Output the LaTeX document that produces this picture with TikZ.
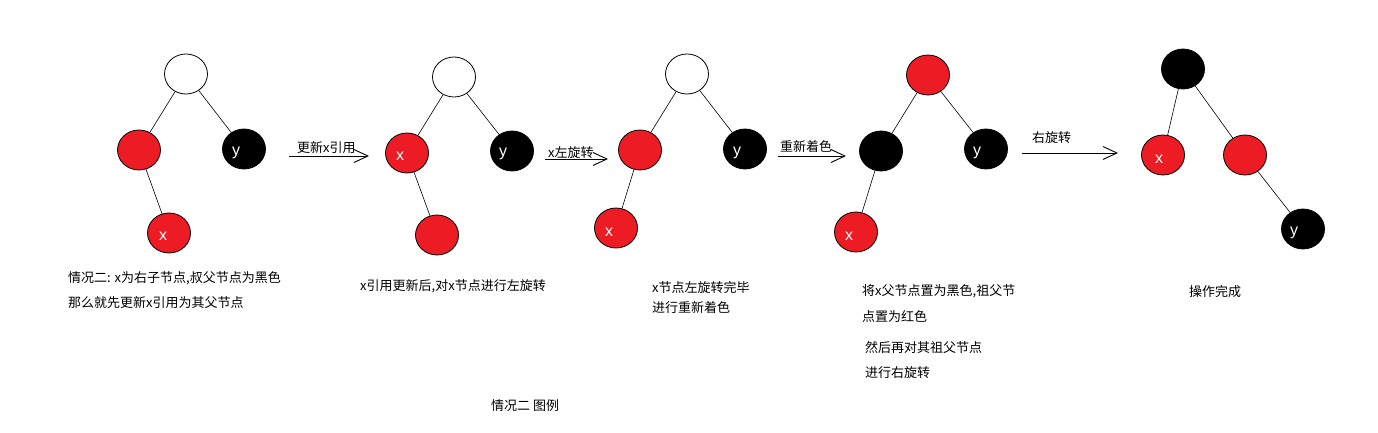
\documentclass[tikz,border=0pt]{standalone}
\usepackage{fontspec}
\setmainfont{Noto Sans CJK SC}
\newfontfamily\lblfont{Liberation Sans}
\usetikzlibrary{shapes.geometric,arrows.meta}
\definecolor{pred}{HTML}{ED1C24}
\tikzset{
  rb/.style={ellipse,draw=black,line width=0.8pt,minimum width=43pt,minimum height=40pt,inner sep=0pt},
  rednode/.style={rb,fill=pred},
  blacknode/.style={rb,fill=black},
  whitenode/.style={rb,fill=white},
  edge/.style={line width=0.6pt},
  lbl/.style={text=white,font=\lblfont\fontsize{16}{16}\selectfont,inner sep=0pt},
  txt/.style={anchor=west,inner sep=0pt,font=\fontsize{13}{15}\selectfont},
  flow/.style={line width=0.9pt,-{Straight Barb[length=14pt,width=13pt,line width=0.9pt]}}
}
\begin{document}
\begin{tikzpicture}[x=1pt,y=-1pt]
\useasboundingbox[fill=white] (0,0) rectangle (1378,433);
% tree 1
\node[whitenode] (a1) at (186,74) {};
\node[rednode] (a2) at (139,150) {};
\node[blacknode] (a3) at (244,149) {};
\node[rednode] (a4) at (169,233) {};
\draw[edge] (a1) -- (a2);
\draw[edge] (a1) -- (a3);
\draw[edge] (a2) -- (a4);
\node[lbl] (a3l) at ([shift={(-8,4)}]a3.center) {y};
\node[lbl] (a4l) at ([shift={(-6,3)}]a4.center) {x};
\node[txt] (t1a) at (68,278) {情况二: x为右子节点,叔父节点为黑色};
\node[txt] (t1b) at (68,303) {那么就先更新x引用为其父节点};
% arrow 1
\coordinate (s1) at (289,156);
\coordinate (e1) at (369,156);
\draw[flow] (s1) -- (e1);
\node[txt] (l1) at (297,148) {更新x引用};
% tree 2
\node[whitenode] (b1) at (454,77) {};
\node[rednode] (b2) at (407,153) {};
\node[blacknode] (b3) at (512,151) {};
\node[rednode] (b4) at (437,235) {};
\draw[edge] (b1) -- (b2);
\draw[edge] (b1) -- (b3);
\draw[edge] (b2) -- (b4);
\node[lbl] (b2l) at ([shift={(-7,3)}]b2.center) {x};
\node[lbl] (b3l) at ([shift={(-9,3)}]b3.center) {y};
\node[txt] (t2) at (360,286) {x引用更新后,对x节点进行左旋转};
% arrow 2
\coordinate (s2) at (545,159);
\coordinate (e2) at (608,159);
\draw[flow] (s2) -- (e2);
\node[txt] (l2) at (548,153) {x左旋转};
% tree 3
\node[whitenode] (c1) at (687,74) {};
\node[rednode] (c2) at (640,150) {};
\node[blacknode] (c3) at (745,149) {};
\node[rednode] (c4) at (616,228) {};
\draw[edge] (c1) -- (c2);
\draw[edge] (c1) -- (c3);
\draw[edge] (c2) -- (c4);
\node[lbl] (c3l) at ([shift={(-8,4)}]c3.center) {y};
\node[lbl] (c4l) at ([shift={(-7,4)}]c4.center) {x};
\node[txt] (t3a) at (652,288) {x节点左旋转完毕};
\node[txt] (t3b) at (652,308) {进行重新着色};
% arrow 3
\coordinate (s3) at (778,156);
\coordinate (e3) at (846,156);
\draw[flow] (s3) -- (e3);
\node[txt] (l3) at (780,147) {重新着色};
% tree 4
\node[rednode] (d1) at (928,75) {};
\node[blacknode] (d2) at (881,151) {};
\node[blacknode] (d3) at (986,149) {};
\node[rednode] (d4) at (856,232) {};
\draw[edge] (d1) -- (d2);
\draw[edge] (d1) -- (d3);
\draw[edge] (d2) -- (d4);
\node[lbl] (d3l) at ([shift={(-9,4)}]d3.center) {y};
\node[lbl] (d4l) at ([shift={(-7,4)}]d4.center) {x};
\node[txt] (t4a) at (862,291) {将x父节点置为黑色,祖父节};
\node[txt] (t4b) at (862,317) {点置为红色};
\node[txt] (t4c) at (865,348) {然后再对其祖父节点};
\node[txt] (t4d) at (865,373) {进行右旋转};
% arrow 4
\coordinate (s4) at (1022,153);
\coordinate (e4) at (1118,153);
\draw[flow] (s4) -- (e4);
\node[txt] (l4) at (1032,138) {右旋转};
% tree 5
\node[blacknode] (f1) at (1183,69) {};
\node[rednode] (f2) at (1163,155) {};
\node[rednode] (f3) at (1245,155) {};
\node[blacknode] (f4) at (1303,229) {};
\draw[edge] (f1) -- (f2);
\draw[edge] (f1) -- (f3);
\draw[edge] (f3) -- (f4);
\node[lbl] (f2l) at ([shift={(-4,4)}]f2.center) {x};
\node[lbl] (f4l) at ([shift={(-9,4)}]f4.center) {y};
\node[txt] (t5) at (1189,292) {操作完成};
% caption
\node[txt] (cap) at (491,406) {情况二 图例};
\end{tikzpicture}
\end{document}
